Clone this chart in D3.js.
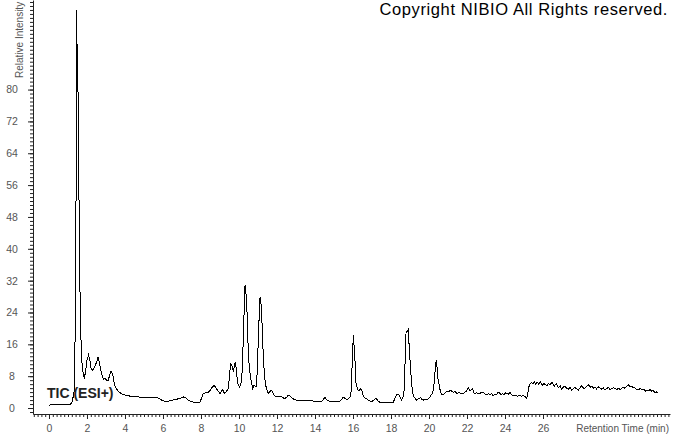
<!DOCTYPE html>
<html>
<head>
<meta charset="utf-8">
<script src="https://cdn.jsdelivr.net/npm/d3@7"></script>
<style>
  body { margin: 0; background: #fff; }
  #tic-chart text { font-family: "Liberation Sans", Arial, sans-serif; }
</style>
</head>
<body>
<div id="tic-chart"></div>
<script>
// Retention time (min) of each point of the trace
var rtMin = [
  0.00, 0.40, 0.80, 1.10, 1.20, 1.27, 1.32, 1.36, 1.41, 1.45, 1.47, 1.48, 1.51, 1.53, 1.60, 1.65, 1.72, 1.80, 1.86, 1.92,
  2.00, 2.08, 2.15, 2.22, 2.30, 2.40, 2.50, 2.58, 2.65, 2.72, 2.80, 2.88, 2.95, 3.02, 3.10, 3.18, 3.27, 3.35, 3.42, 3.50,
  3.60, 3.70, 3.80, 3.90, 4.00, 4.10, 4.20, 4.30, 4.40, 4.50, 4.70, 4.90, 5.10, 5.30, 5.50, 5.70, 5.85, 6.00, 6.20, 6.40,
  6.60, 6.80, 7.00, 7.10, 7.20, 7.30, 7.45, 7.60, 7.80, 7.95, 8.05, 8.12, 8.25, 8.38, 8.50, 8.60, 8.70, 8.80, 8.88, 8.95,
  9.00, 9.08, 9.14, 9.20, 9.26, 9.35, 9.44, 9.50, 9.56, 9.60, 9.65, 9.70, 9.75, 9.81, 9.86, 9.92, 9.96, 10.02, 10.08, 10.14,
  10.19, 10.23, 10.28, 10.32, 10.36, 10.40, 10.45, 10.49, 10.54, 10.58, 10.65, 10.72, 10.78, 10.84, 10.90, 10.96, 11.02, 11.07, 11.11, 11.15,
  11.18, 11.23, 11.28, 11.34, 11.40, 11.47, 11.54, 11.62, 11.72, 11.80, 11.90, 12.00, 12.10, 12.25, 12.35, 12.42, 12.52, 12.60, 12.68, 12.78,
  12.90, 13.00, 13.20, 13.40, 13.60, 13.80, 14.00, 14.20, 14.35, 14.45, 14.53, 14.60, 14.70, 14.85, 15.00, 15.20, 15.35, 15.45, 15.50, 15.60,
  15.70, 15.80, 15.88, 15.92, 15.97, 16.02, 16.05, 16.08, 16.12, 16.16, 16.22, 16.28, 16.33, 16.40, 16.46, 16.50, 16.54, 16.65, 16.80, 16.98,
  17.10, 17.21, 17.30, 17.42, 17.60, 17.80, 18.00, 18.12, 18.20, 18.30, 18.36, 18.42, 18.50, 18.56, 18.62, 18.68, 18.73, 18.79, 18.85, 18.91,
  18.95, 19.00, 19.07, 19.14, 19.22, 19.35, 19.45, 19.56, 19.63, 19.70, 19.80, 19.95, 20.05, 20.15, 20.22, 20.28, 20.33, 20.38, 20.42, 20.46,
  20.52, 20.60, 20.70, 20.84, 20.94, 21.02, 21.14, 21.28, 21.38, 21.46, 21.60, 21.70, 21.80, 21.94, 22.07, 22.14, 22.20, 22.30, 22.38, 22.50,
  22.60, 22.68, 22.78, 22.86, 22.95, 23.03, 23.12, 23.20, 23.30, 23.37, 23.46, 23.55, 23.62, 23.70, 23.78, 23.86, 23.95, 24.02, 24.10, 24.18,
  24.26, 24.35, 24.44, 24.55, 24.65, 24.75, 24.85, 24.96, 25.08, 25.14, 25.28, 25.40, 25.47, 25.53, 25.62, 25.70, 25.78, 25.86, 25.95, 26.03,
  26.10, 26.20, 26.28, 26.37, 26.45, 26.50, 26.60, 26.70, 26.80, 26.90, 26.98, 27.08, 27.16, 27.25, 27.33, 27.42, 27.50, 27.58, 27.68, 27.77,
  27.86, 27.95, 28.04, 28.12, 28.20, 28.30, 28.40, 28.48, 28.56, 28.65, 28.73, 28.82, 28.90, 29.00, 29.10, 29.18, 29.26, 29.35, 29.44, 29.52,
  29.60, 29.70, 29.80, 29.88, 29.96, 30.05, 30.14, 30.22, 30.30, 30.40, 30.50, 30.58, 30.66, 30.76, 30.85, 30.94, 31.00, 31.10, 31.20, 31.30,
  31.40, 31.48, 31.54, 31.64, 31.72, 31.80, 31.90, 31.96, 32.03
];

// Relative intensity (%), same order as rtMin
var relInt = [
  0.75, 0.8, 0.85, 0.9, 1.2, 2.8, 4.0, 11, 40, 80, 100, 80, 88, 78, 42, 22, 12, 8.5, 7.6, 9.0,
  12.0, 13.3, 12.0, 9.8, 9.5, 10.2, 11.5, 12.7, 11.5, 9.6, 8.0, 7.2, 7.5, 7.0, 6.8, 8.0, 9.3, 8.5, 6.5, 5.2,
  4.5, 4.0, 3.6, 3.4, 3.3, 3.0, 3.1, 2.9, 3.0, 2.8, 2.8, 2.7, 2.7, 2.7, 2.7, 2.6, 2.2, 1.8, 1.7, 1.8,
  2.1, 2.3, 2.6, 2.8, 2.5, 2.1, 1.7, 1.5, 1.4, 1.5, 2.8, 3.7, 3.8, 3.9, 4.5, 5.3, 5.7, 5.0, 4.3, 4.0,
  3.6, 4.2, 4.7, 4.0, 3.7, 4.2, 5.0, 8.0, 11.4, 10.8, 10.4, 9.1, 10.5, 11.6, 9.5, 6.5, 5.8, 5.3, 5.8, 7.0,
  12, 18, 26, 31, 29, 27, 20, 13.8, 10.5, 8.8, 6.5, 5.0, 5.6, 5.5, 5.4, 9, 17.9, 24, 28, 26.5,
  25.5, 19, 12.9, 8, 5.8, 4.5, 3.7, 4.1, 4.5, 3.6, 3.0, 2.9, 2.8, 2.8, 2.5, 2.4, 2.8, 3.2, 3.1, 2.6,
  2.1, 2.0, 2.0, 1.9, 1.8, 1.8, 1.7, 1.6, 1.7, 2.2, 2.7, 2.2, 1.8, 1.7, 1.6, 1.6, 1.8, 2.5, 2.7, 2.3,
  2.2, 2.5, 2.9, 6, 13, 18.4, 16, 15.2, 10, 6.2, 5.0, 4.3, 4.5, 4.8, 4.7, 3.8, 3.0, 2.5, 2.0, 1.6,
  2.0, 2.4, 1.9, 1.4, 1.3, 1.3, 1.4, 1.4, 2.4, 3.4, 3.5, 3.3, 2.4, 2.0, 2.6, 3.7, 10, 18.8, 19.3, 19.8,
  16, 12.1, 7, 3.7, 2.7, 2.0, 2.3, 2.6, 2.1, 2.0, 2.1, 2.3, 2.8, 3.5, 4.5, 6.5, 10, 12, 10.5, 7.5,
  6.2, 4.1, 3.3, 3.7, 4.3, 4.1, 4.5, 3.9, 4.2, 3.7, 3.9, 3.6, 3.7, 4.1, 5.0, 4.4, 4.5, 4.8, 3.7, 3.8,
  3.6, 3.7, 4.0, 3.9, 3.5, 3.3, 3.6, 3.4, 3.6, 3.1, 3.5, 3.4, 3.8, 3.9, 3.4, 3.6, 3.3, 3.8, 3.7, 3.5,
  3.9, 3.3, 3.1, 3.2, 3.0, 3.1, 3.0, 3.1, 2.8, 2.4, 5.8, 6.4, 6.0, 6.6, 6.0, 6.5, 5.9, 6.6, 5.7, 6.1,
  6.0, 5.6, 6.1, 5.8, 6.4, 6.3, 5.5, 6.2, 5.1, 5.6, 4.7, 5.3, 5.5, 4.9, 4.7, 5.2, 4.5, 4.8, 5.2, 4.8,
  4.5, 5.1, 5.7, 5.0, 5.0, 5.4, 5.8, 5.2, 5.5, 5.0, 5.3, 4.8, 5.4, 5.0, 4.7, 5.0, 4.5, 4.9, 5.2, 4.6,
  4.8, 5.1, 4.9, 4.6, 5.0, 4.7, 4.9, 5.3, 5.0, 5.4, 5.8, 5.3, 5.5, 5.1, 5.0, 4.6, 4.5, 4.9, 4.6, 4.7,
  4.2, 4.5, 4.4, 4.6, 4.2, 4.4, 3.9, 4.1, 3.7
];

// Axis tick values
var yMajorTicks = [0, 8, 16, 24, 32, 40, 48, 56, 64, 72, 80];
var xMajorTicks = [0, 2, 4, 6, 8, 10, 12, 14, 16, 18, 20, 22, 24, 26];

var width = 674, height = 434;

var svg = d3.select("#tic-chart").append("svg")
    .attr("width", width)
    .attr("height", height);

svg.append("rect")
    .attr("width", width)
    .attr("height", height)
    .attr("fill", "#fff");

// x scale: the axis starts a bit before 0 min and ends past the last point
var x = d3.scaleLinear()
    .domain([-0.842, 32.684])
    .range([33, 670]);

// y scale: axis line sits a little below 0 %
var y = d3.scaleLinear()
    .domain([-1.5, 102.5])
    .range([414, 0]);

// minor ticks first
var yMinor = d3.range(-1, 103);
var xMinor = d3.range(-4, 164).map(function(i) { return i * 0.2; });

svg.append("g")
    .attr("transform", "translate(33,0)")
    .call(d3.axisLeft(y).tickValues(yMinor).tickSize(3).tickSizeOuter(0).tickFormat(""))
    .call(function(g) { g.select(".domain").remove(); });

svg.append("g")
    .attr("transform", "translate(0,414)")
    .call(d3.axisBottom(x).tickValues(xMinor).tickSize(3).tickSizeOuter(0).tickFormat(""))
    .call(function(g) { g.select(".domain").remove(); });

// major y axis
var yAxisG = svg.append("g")
    .attr("transform", "translate(33,0)")
    .call(d3.axisLeft(y).tickValues(yMajorTicks).tickSize(5).tickSizeOuter(0));

yAxisG.selectAll("text")
    .attr("x", -21)
    .attr("text-anchor", "middle")
    .attr("fill", "#555")
    .style("font-size", "10.5px");

// major x axis
var xAxisG = svg.append("g")
    .attr("transform", "translate(0,414)")
    .call(d3.axisBottom(x).tickValues(xMajorTicks).tickSize(5).tickSizeOuter(0));

xAxisG.selectAll("text")
    .attr("y", 18)
    .attr("dy", 0)
    .attr("fill", "#555")
    .style("font-size", "10.5px");

svg.selectAll(".tick line").attr("stroke", "#222");
svg.selectAll(".domain").attr("stroke", "#222");

// axis titles
svg.append("text")
    .attr("transform", "translate(23,78) rotate(-90)")
    .attr("fill", "#555")
    .style("font-size", "10px")
    .text("Relative Intensity");

svg.append("text")
    .attr("x", 669)
    .attr("y", 432)
    .attr("text-anchor", "end")
    .attr("fill", "#555")
    .style("font-size", "10px")
    .text("Retention Time (min)");

// the chromatogram trace
var points = rtMin.map(function(t, i) { return [t, relInt[i]]; });

var line = d3.line()
    .x(function(d) { return x(d[0]); })
    .y(function(d) { return y(d[1]); });

svg.append("path")
    .datum(points)
    .attr("d", line)
    .attr("fill", "none")
    .attr("stroke", "#000")
    .attr("stroke-width", 1)
    .attr("shape-rendering", "crispEdges");

// labels
svg.append("text")
    .attr("x", 47)
    .attr("y", 398)
    .attr("fill", "#222")
    .style("font-size", "14px")
    .style("font-weight", "bold")
    .text("TIC (ESI+)");

svg.append("text")
    .attr("x", 668)
    .attr("y", 15)
    .attr("text-anchor", "end")
    .attr("fill", "#000")
    .style("font-size", "16.5px")
    .style("letter-spacing", "0.6px")
    .text("Copyright NIBIO All Rights reserved.");
</script>
</body>
</html>
